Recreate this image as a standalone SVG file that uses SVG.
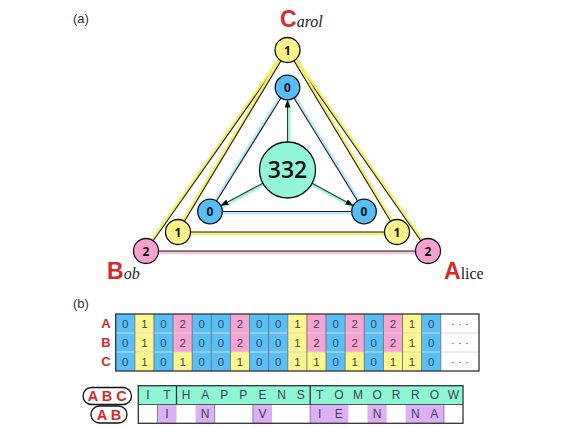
<svg xmlns="http://www.w3.org/2000/svg" width="569" height="427" viewBox="0 0 569 427">
<defs>
<marker id="arr" markerUnits="userSpaceOnUse" markerWidth="8" markerHeight="6" refX="7.5" refY="3" orient="auto"><path d="M0,0 L8,3 L0,6 z" fill="#111"/></marker>
<style>
.dk{stroke:#1a1a1a;stroke-width:1.1;fill:none}
.by{stroke:#f7ee6a;stroke-width:3;fill:none}
.bb{stroke:#bfe6fb;stroke-width:3;fill:none}
.bp{stroke:#f9c4dc;stroke-width:3;fill:none}
.bg{stroke:#a6f2d8;stroke-width:3;fill:none}
.ar{stroke:#1d3f3a;stroke-width:1.1;fill:none;marker-end:url(#arr)}
.nd{stroke:#111;stroke-width:1.3}
.y{fill:#fbf28a}.b{fill:#56bef6}.p{fill:#f9a2cf}.m{fill:#92f6d8}
.nt{font-family:"Open Sans","DejaVu Sans",sans-serif;font-weight:bold;font-size:12px;fill:#111;text-anchor:middle}
.cap{font-family:"Liberation Sans",Arial,sans-serif;font-size:13px;fill:#333}
.big{font-family:"Liberation Sans",Arial,sans-serif;font-weight:bold;font-size:23px;fill:#d42a2a}
.sm{font-family:"Liberation Serif","Times New Roman",serif;font-style:italic;font-size:16px;fill:#222}
.rl{font-family:"Liberation Sans",Arial,sans-serif;font-weight:bold;font-size:13px;fill:#d42a2a;text-anchor:middle}
.ct{font-family:"Liberation Sans",Arial,sans-serif;font-size:11.5px;fill:#3a4458;text-anchor:middle}
.c0{fill:#58c0f7}.c1{fill:#fdf68d}.c2{fill:#f7a4d0}.tl{fill:#8ef6d4}.pu{fill:#ddb0f6}
.sep{stroke:#5a6470;stroke-width:0.8}
.rsep{stroke:#d8d8d8;stroke-width:1}
.thk{stroke:#333;stroke-width:1.3}
.pe{stroke:#7a7a86;stroke-width:0.9;fill:none}
</style>
</defs>
<rect width="569" height="427" fill="#fff"/>
<text class="cap" x="73" y="23">(a)</text>
<text class="cap" x="73" y="308">(b)</text>

<g id="edges">
<line class="by" x1="286.27" y1="49.14" x2="144.77" y2="250.14"/>
<line class="dk" x1="287.5" y1="50" x2="146" y2="251"/>
<line class="by" x1="288.73" y1="49.14" x2="429.23" y2="250.14"/>
<line class="dk" x1="287.5" y1="50" x2="428" y2="251"/>
<line class="by" x1="286.21" y1="49.23" x2="176.71" y2="231.23"/>
<line class="dk" x1="287.5" y1="50" x2="178" y2="232"/>
<line class="by" x1="288.79" y1="49.23" x2="398.29" y2="231.23"/>
<line class="dk" x1="287.5" y1="50" x2="397" y2="232"/>
<line class="by" x1="178" y1="233.5" x2="397" y2="233.5"/>
<line class="dk" x1="178" y1="232" x2="397" y2="232"/>
<line class="bp" x1="146" y1="252.5" x2="428" y2="252.5"/>
<line class="dk" x1="146" y1="251" x2="428" y2="251"/>
<line class="bb" x1="286.23" y1="86.7" x2="208.73" y2="210.7"/>
<line class="dk" x1="287.5" y1="87.5" x2="210" y2="211.5"/>
<line class="bb" x1="288.77" y1="86.7" x2="365.27" y2="210.7"/>
<line class="dk" x1="287.5" y1="87.5" x2="364" y2="211.5"/>
<line class="bb" x1="210" y1="213" x2="364" y2="213"/>
<line class="dk" x1="210" y1="211.5" x2="364" y2="211.5"/>
<line class="bg" x1="289" y1="142" x2="289" y2="101"/>
<line class="ar" x1="287.5" y1="142" x2="287.5" y2="100"/>
<line class="bg" x1="263.5" y1="184.5" x2="221.7" y2="206.9"/>
<line class="ar" x1="262.8" y1="183.2" x2="221" y2="205.6"/>
<line class="bg" x1="311.5" y1="184.5" x2="353.3" y2="206.9"/>
<line class="ar" x1="312.2" y1="183.2" x2="353" y2="205.6"/>
</g>

<g id="n-center"><circle class="nd m" cx="287.5" cy="170" r="28"/><text class="nt" x="287.5" y="178" style="font-size:23px;font-weight:600">332</text></g>
<g id="n-blue-top"><circle class="nd b" cx="287.5" cy="87.5" r="12.3"/><text class="nt" x="287.5" y="92">0</text></g>
<g id="n-blue-left"><circle class="nd b" cx="210" cy="211.5" r="12.3"/><text class="nt" x="210" y="216">0</text></g>
<g id="n-blue-right"><circle class="nd b" cx="364" cy="211.5" r="12.3"/><text class="nt" x="364" y="216">0</text></g>
<g id="n-yellow-top"><circle class="nd y" cx="287.5" cy="50" r="12.5"/><text class="nt" x="287.5" y="54.5">1</text></g>
<g id="n-yellow-left"><circle class="nd y" cx="178" cy="232" r="12.5"/><text class="nt" x="178" y="236.5">1</text></g>
<g id="n-yellow-right"><circle class="nd y" cx="397" cy="232" r="12.5"/><text class="nt" x="397" y="236.5">1</text></g>
<g id="n-pink-left"><circle class="nd p" cx="146" cy="251" r="12.5"/><text class="nt" x="146" y="255.5">2</text></g>
<g id="n-pink-right"><circle class="nd p" cx="428" cy="251" r="12.5"/><text class="nt" x="428" y="255.5">2</text></g>

<g id="label-carol"><text x="280" y="27"><tspan class="big">C</tspan><tspan class="sm">arol</tspan></text></g>
<g id="label-bob"><text x="107" y="279"><tspan class="big">B</tspan><tspan class="sm">ob</tspan></text></g>
<g id="label-alice"><text x="444" y="279"><tspan class="big">A</tspan><tspan class="sm" style="font-style:normal">lice</tspan></text></g>

<g id="table-b">
<text class="rl" x="106" y="328">A</text>
<text class="rl" x="106" y="347">B</text>
<text class="rl" x="106" y="366">C</text>
<g id="cells">
<rect class="c0" x="115.7" y="314" width="19.12" height="19"/><rect class="c1" x="134.82" y="314" width="19.12" height="19"/><rect class="c0" x="153.94" y="314" width="19.12" height="19"/><rect class="c2" x="173.06" y="314" width="19.12" height="19"/><rect class="c0" x="192.18" y="314" width="19.12" height="19"/><rect class="c0" x="211.3" y="314" width="19.12" height="19"/><rect class="c2" x="230.42" y="314" width="19.12" height="19"/><rect class="c0" x="249.54" y="314" width="19.12" height="19"/><rect class="c0" x="268.66" y="314" width="19.12" height="19"/><rect class="c1" x="287.78" y="314" width="19.12" height="19"/><rect class="c2" x="306.9" y="314" width="19.12" height="19"/><rect class="c0" x="326.02" y="314" width="19.12" height="19"/><rect class="c2" x="345.14" y="314" width="19.12" height="19"/><rect class="c0" x="364.26" y="314" width="19.12" height="19"/><rect class="c2" x="383.38" y="314" width="19.12" height="19"/><rect class="c1" x="402.5" y="314" width="19.12" height="19"/><rect class="c0" x="421.62" y="314" width="19.12" height="19"/>
<rect class="c0" x="115.7" y="333" width="19.12" height="19"/><rect class="c1" x="134.82" y="333" width="19.12" height="19"/><rect class="c0" x="153.94" y="333" width="19.12" height="19"/><rect class="c2" x="173.06" y="333" width="19.12" height="19"/><rect class="c0" x="192.18" y="333" width="19.12" height="19"/><rect class="c0" x="211.3" y="333" width="19.12" height="19"/><rect class="c2" x="230.42" y="333" width="19.12" height="19"/><rect class="c0" x="249.54" y="333" width="19.12" height="19"/><rect class="c0" x="268.66" y="333" width="19.12" height="19"/><rect class="c1" x="287.78" y="333" width="19.12" height="19"/><rect class="c2" x="306.9" y="333" width="19.12" height="19"/><rect class="c0" x="326.02" y="333" width="19.12" height="19"/><rect class="c2" x="345.14" y="333" width="19.12" height="19"/><rect class="c0" x="364.26" y="333" width="19.12" height="19"/><rect class="c2" x="383.38" y="333" width="19.12" height="19"/><rect class="c1" x="402.5" y="333" width="19.12" height="19"/><rect class="c0" x="421.62" y="333" width="19.12" height="19"/>
<rect class="c0" x="115.7" y="352" width="19.12" height="19"/><rect class="c1" x="134.82" y="352" width="19.12" height="19"/><rect class="c0" x="153.94" y="352" width="19.12" height="19"/><rect class="c1" x="173.06" y="352" width="19.12" height="19"/><rect class="c0" x="192.18" y="352" width="19.12" height="19"/><rect class="c0" x="211.3" y="352" width="19.12" height="19"/><rect class="c1" x="230.42" y="352" width="19.12" height="19"/><rect class="c0" x="249.54" y="352" width="19.12" height="19"/><rect class="c0" x="268.66" y="352" width="19.12" height="19"/><rect class="c1" x="287.78" y="352" width="19.12" height="19"/><rect class="c1" x="306.9" y="352" width="19.12" height="19"/><rect class="c0" x="326.02" y="352" width="19.12" height="19"/><rect class="c1" x="345.14" y="352" width="19.12" height="19"/><rect class="c0" x="364.26" y="352" width="19.12" height="19"/><rect class="c1" x="383.38" y="352" width="19.12" height="19"/><rect class="c1" x="402.5" y="352" width="19.12" height="19"/><rect class="c0" x="421.62" y="352" width="19.12" height="19"/>
</g>
<g id="grid">
<line class="rsep" x1="115.7" y1="333" x2="479" y2="333"/>
<line class="rsep" x1="115.7" y1="352" x2="479" y2="352"/>
<path class="sep" d="M134.82,314V371M153.94,314V371M173.06,314V371M192.18,314V371M211.3,314V371M230.42,314V371M249.54,314V371M268.66,314V371M287.78,314V371M306.9,314V371M326.02,314V371M345.14,314V371M364.26,314V371M383.38,314V371M402.5,314V371M421.62,314V371M440.74,314V371"/>
<rect x="115.7" y="314" width="363.3" height="57" fill="none" class="thk"/>
</g>
<g id="vals">
<text class="ct" y="327.5"><tspan x="125.26">0</tspan><tspan x="144.38">1</tspan><tspan x="163.5">0</tspan><tspan x="182.62">2</tspan><tspan x="201.74">0</tspan><tspan x="220.86">0</tspan><tspan x="239.98">2</tspan><tspan x="259.1">0</tspan><tspan x="278.22">0</tspan><tspan x="297.34">1</tspan><tspan x="316.46">2</tspan><tspan x="335.58">0</tspan><tspan x="354.7">2</tspan><tspan x="373.82">0</tspan><tspan x="392.94">2</tspan><tspan x="412.06">1</tspan><tspan x="431.18">0</tspan><tspan x="460">· · ·</tspan></text>
<text class="ct" y="346.5"><tspan x="125.26">0</tspan><tspan x="144.38">1</tspan><tspan x="163.5">0</tspan><tspan x="182.62">2</tspan><tspan x="201.74">0</tspan><tspan x="220.86">0</tspan><tspan x="239.98">2</tspan><tspan x="259.1">0</tspan><tspan x="278.22">0</tspan><tspan x="297.34">1</tspan><tspan x="316.46">2</tspan><tspan x="335.58">0</tspan><tspan x="354.7">2</tspan><tspan x="373.82">0</tspan><tspan x="392.94">2</tspan><tspan x="412.06">1</tspan><tspan x="431.18">0</tspan><tspan x="460">· · ·</tspan></text>
<text class="ct" y="365.5"><tspan x="125.26">0</tspan><tspan x="144.38">1</tspan><tspan x="163.5">0</tspan><tspan x="182.62">1</tspan><tspan x="201.74">0</tspan><tspan x="220.86">0</tspan><tspan x="239.98">1</tspan><tspan x="259.1">0</tspan><tspan x="278.22">0</tspan><tspan x="297.34">1</tspan><tspan x="316.46">1</tspan><tspan x="335.58">0</tspan><tspan x="354.7">1</tspan><tspan x="373.82">0</tspan><tspan x="392.94">1</tspan><tspan x="412.06">1</tspan><tspan x="431.18">0</tspan><tspan x="460">· · ·</tspan></text>
</g>
</g>

<g id="message">
<g id="lab-abc"><rect x="83" y="387.5" width="48.5" height="17" rx="8.5" fill="#fff" stroke="#111" stroke-width="1.3"/><text class="rl" x="107.2" y="401" style="font-size:14.5px">A B C</text></g>
<g id="lab-ab"><rect x="91" y="406" width="36" height="17" rx="8.5" fill="#fff" stroke="#111" stroke-width="1.3"/><text class="rl" x="109" y="419.5" style="font-size:14.5px">A B</text></g>
<rect class="tl" x="138.3" y="385.7" width="324.7" height="18.8"/>
<rect class="pu" x="157.4" y="404.5" width="19.1" height="18.8"/>
<rect class="pu" x="195.6" y="404.5" width="19.1" height="18.8"/>
<rect class="pu" x="252.9" y="404.5" width="19.1" height="18.8"/>
<rect class="pu" x="310.2" y="404.5" width="38.2" height="18.8"/>
<rect class="pu" x="367.5" y="404.5" width="19.1" height="18.8"/>
<rect class="pu" x="405.7" y="404.5" width="38.2" height="18.8"/>
<path class="pe" d="M157.4,404.5V423.3M214.7,404.5V423.3M252.9,404.5V423.3M310.2,404.5V423.3M443.9,404.5V423.3"/>
<line stroke="#555" stroke-width="1" x1="138.3" y1="404.5" x2="463" y2="404.5"/>
<path class="thk" d="M176.5,385.7V404.5M310.2,385.7V404.5" fill="none"/>
<rect x="138.3" y="385.7" width="324.7" height="37.6" fill="none" class="thk"/>
<text class="ct" y="399" style="font-size:12px"><tspan x="147.85">I</tspan><tspan x="166.95">T</tspan><tspan x="186.05">H</tspan><tspan x="205.15">A</tspan><tspan x="224.25">P</tspan><tspan x="243.35">P</tspan><tspan x="262.45">E</tspan><tspan x="281.55">N</tspan><tspan x="300.65">S</tspan><tspan x="319.75">T</tspan><tspan x="338.85">O</tspan><tspan x="357.95">M</tspan><tspan x="377.05">O</tspan><tspan x="396.15">R</tspan><tspan x="415.25">R</tspan><tspan x="434.35">O</tspan><tspan x="453.45">W</tspan></text>
<text class="ct" y="418" style="font-size:12px"><tspan x="166.95">I</tspan><tspan x="205.15">N</tspan><tspan x="262.45">V</tspan><tspan x="319.75">I</tspan><tspan x="338.85">E</tspan><tspan x="377.05">N</tspan><tspan x="415.25">N</tspan><tspan x="434.35">A</tspan></text>
</g>
</svg>
